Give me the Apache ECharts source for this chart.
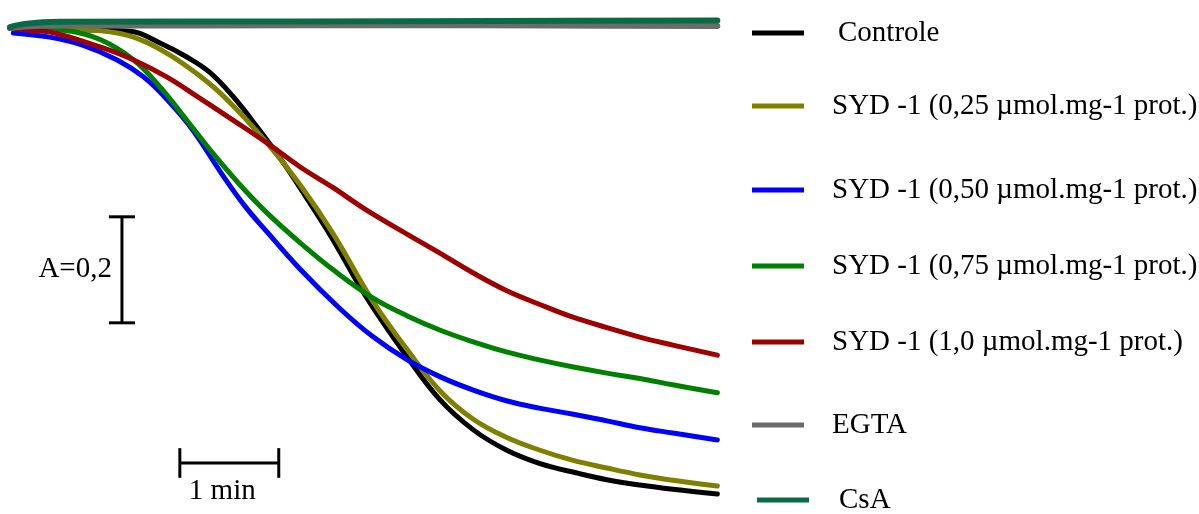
<!DOCTYPE html>
<html>
<head>
<meta charset="utf-8">
<script src="https://cdn.jsdelivr.net/npm/echarts@6/dist/echarts.min.js"></script>
<style>
  html, body { margin: 0; padding: 0; background: #fff; }
  #chart { width: 1199px; height: 514px; }
</style>
</head>
<body>
<div id="chart"></div>
<script>
// series names (legend) and colours
var seriesNames = ['Controle', 'SYD -1 (0,25 µmol.mg-1 prot.)', 'SYD -1 (0,50 µmol.mg-1 prot.)',
  'SYD -1 (0,75 µmol.mg-1 prot.)', 'SYD -1 (1,0 µmol.mg-1 prot.)', 'EGTA', 'CsA'];
var seriesColors = ['#000000', '#808000', '#0000ff', '#008000', '#9e0000', '#6b6b6b', '#0a6a46'];

// [time (s), absorbance change]
var controleData = [[0, -0.001], [30, -0.003], [55, -0.005], [73, -0.007], [91, -0.029], [107, -0.055],
  [121, -0.084], [135, -0.129], [150, -0.188], [166, -0.256], [181, -0.327], [196, -0.401], [216, -0.508],
  [241, -0.622], [261, -0.703], [281, -0.759], [301, -0.797], [321, -0.822], [346, -0.842], [362, -0.853],
  [382, -0.863], [402, -0.871], [429, -0.880]];
var syd025Data = [[0, -0.001], [30, -0.003], [55, -0.006], [75, -0.018], [95, -0.048], [115, -0.091],
  [132, -0.137], [156, -0.218], [176, -0.297], [196, -0.389], [220, -0.516], [241, -0.608],
  [261, -0.686], [281, -0.739], [301, -0.773], [321, -0.797], [341, -0.816], [362, -0.831], [382, -0.844],
  [402, -0.854], [429, -0.865]];
var syd050Data = [[2, -0.010], [24, -0.018], [44, -0.033], [65, -0.061], [81, -0.093], [95, -0.135],
  [111, -0.194], [128, -0.274], [142, -0.335], [156, -0.386], [176, -0.456], [200, -0.530], [220, -0.583],
  [241, -0.627], [261, -0.659], [281, -0.684], [301, -0.704], [321, -0.718], [341, -0.729], [362, -0.742],
  [382, -0.755], [402, -0.765], [429, -0.778]];
var syd075Data = [[0, -0.001], [18, -0.003], [35, -0.006], [55, -0.023], [75, -0.061], [91, -0.112],
  [107, -0.174], [123, -0.237], [139, -0.295], [156, -0.350], [176, -0.406], [196, -0.457], [220, -0.510],
  [241, -0.544], [261, -0.571], [281, -0.593], [301, -0.612], [321, -0.627], [341, -0.640], [362, -0.652],
  [382, -0.662], [402, -0.674], [429, -0.689]];
var syd10Data = [[0, -0.001], [12, -0.005], [24, -0.008], [55, -0.037], [75, -0.061], [95, -0.093],
  [115, -0.133], [135, -0.174], [156, -0.218], [176, -0.263], [196, -0.302], [216, -0.344], [241, -0.390],
  [261, -0.426], [281, -0.463], [301, -0.496], [321, -0.522], [341, -0.546], [362, -0.566], [382, -0.584],
  [402, -0.599], [429, -0.618]];
var egtaData = [[0, -0.001], [9, 0.002], [30, 0.004], [115, 0.004], [236, 0.005], [330, 0.004], [429, 0.003]];
var csaData = [[0, 0.001], [9, 0.007], [30, 0.011], [176, 0.0115], [297, 0.0125], [429, 0.0134]];

var allData = [controleData, syd025Data, syd050Data, syd075Data, syd10Data, egtaData, csaData];

// scale bars: A = 0,2 (vertical) and 1 min (horizontal)
var aBarX = 67.9, aBarTop = -0.357, aBarLen = 0.2, aCapHalf = 7.9;
var tBarY = -0.8215, tBarStart = 103, tBarLen = 60, tCapHalf = 0.028;

var legendTops = [18, 91, 175, 251, 327, 410, 485];
var legendLefts = [752, 752, 752, 752, 752, 752, 757];
var legendPads = [29, 23, 23, 23, 23, 23, 25];

var font = '"Liberation Serif", "Times New Roman", serif';

var myChart = echarts.init(document.getElementById('chart'));

var series = [];
allData.forEach(function (d, i) {
  series.push({
    name: seriesNames[i],
    type: 'line',
    data: d,
    smooth: 0.4,
    symbol: 'none',
    clip: false,
    z: 2 + i,
    lineStyle: { color: seriesColors[i], width: i >= 5 ? 6 : 5, cap: 'round' },
    itemStyle: { color: seriesColors[i] }
  });
});

function seg(points) {
  return {
    type: 'line', data: points, symbol: 'none', silent: true, clip: false, z: 10,
    lineStyle: { color: '#000', width: 3 }
  };
}
series.push(seg([[aBarX, aBarTop], [aBarX, aBarTop - aBarLen]]));
series.push(seg([[aBarX - aCapHalf, aBarTop], [aBarX + aCapHalf, aBarTop]]));
series.push(seg([[aBarX - aCapHalf, aBarTop - aBarLen], [aBarX + aCapHalf, aBarTop - aBarLen]]));
series.push(seg([[tBarStart, tBarY], [tBarStart + tBarLen, tBarY]]));
series.push(seg([[tBarStart, tBarY + tCapHalf], [tBarStart, tBarY - tCapHalf]]));
series.push(seg([[tBarStart + tBarLen, tBarY + tCapHalf], [tBarStart + tBarLen, tBarY - tCapHalf]]));

// labels of the scale bars
series.push({
  type: 'scatter', symbolSize: 0, silent: true,
  itemStyle: { opacity: 1 },
  data: [[aBarX, aBarTop - aBarLen / 2]],
  label: { show: true, position: 'left', distance: 10, formatter: 'A=0,2', opacity: 1,
    color: '#000', fontSize: 29, fontFamily: font }
});
series.push({
  type: 'scatter', symbolSize: 0, silent: true,
  itemStyle: { opacity: 1 },
  data: [[tBarStart + tBarLen / 2, tBarY]],
  label: { show: true, position: 'bottom', distance: 14, offset: [-7, 0], formatter: '1 min', opacity: 1,
    color: '#000', fontSize: 29, fontFamily: font }
});

var legends = seriesNames.map(function (name, i) {
  return {
    data: [name],
    top: legendTops[i],
    left: legendLefts[i],
    padding: 0,
    icon: 'rect',
    itemWidth: 52,
    itemHeight: 5,
    selectedMode: false,
    textStyle: { color: '#000', fontSize: 29, fontFamily: font, lineHeight: 30,
      padding: [0, 0, 0, legendPads[i]] }
  };
});

var option = {
  animation: false,
  backgroundColor: '#fff',
  grid: { left: 10, top: 17, width: 709, height: 487.6 },
  xAxis: { type: 'value', min: 0, max: 430, show: false },
  yAxis: { type: 'value', min: -0.9, max: 0.02, show: false },
  legend: legends,
  series: series
};
myChart.setOption(option);
</script>
</body>
</html>
